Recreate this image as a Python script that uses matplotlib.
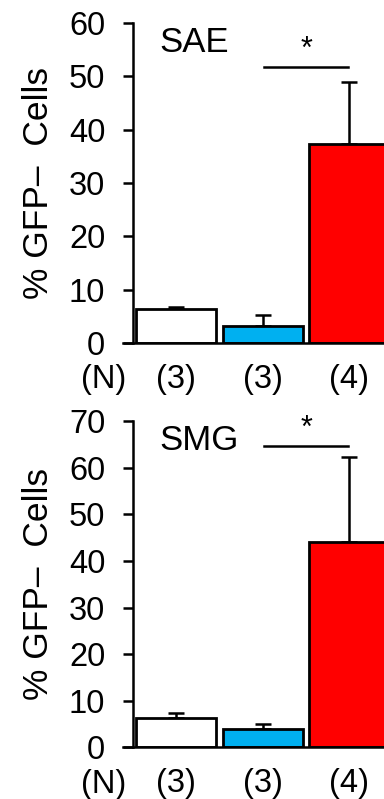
import matplotlib
matplotlib.use('Agg')
import matplotlib.pyplot as plt

plt.rcParams['font.family'] = ['Liberation Sans', 'DejaVu Sans']

n_labels = ['(3)', '(3)', '(4)']
bar_colors = ['white', '#00B0F0', '#FF0000']

sae_means = [6.3, 3.2, 37.4]
sae_err = [0.5, 2.0, 11.6]
sae_sig_y = 51.8

smg_means = [6.2, 3.9, 44.1]
smg_err = [1.1, 1.2, 18.2]
smg_sig_y = 64.8

fig = plt.figure(figsize=(3.84, 7.99), dpi=100)

W = 259.5 / 384
panels = [
    ('SAE', sae_means, sae_err, sae_sig_y, 60, 10, [0.3464, 0.5707, W, 0.4005]),
    ('SMG', smg_means, smg_err, smg_sig_y, 70, 10, [0.3464, 0.0647, W, 0.4080]),
]

for title, means, errs, sig_y, ymax, step, pos in panels:
    ax = fig.add_axes(pos)
    x = range(len(means))
    ax.bar(x, means, width=0.92, color=bar_colors, edgecolor='black', linewidth=2.0, zorder=2)
    ax.errorbar(x, means, yerr=[[0] * len(errs), errs], fmt='none', ecolor='black',
                elinewidth=1.8, capsize=5.5, capthick=1.8, zorder=1)
    ax.set_xlim(-0.5, 2.5)
    ax.set_ylim(0, ymax)
    ax.set_yticks(range(0, ymax + 1, step))
    ax.tick_params(axis='y', direction='out', length=7, width=1.8, labelsize=23.5, pad=13)
    ax.set_xticks(list(x))
    ax.set_xticklabels(n_labels, fontsize=23.5)
    ax.tick_params(axis='x', length=0, pad=15)
    for s in ['top', 'right']:
        ax.spines[s].set_visible(False)
    ax.spines['left'].set_linewidth(1.8)
    ax.spines['bottom'].set_linewidth(1.8)
    ax.spines['bottom'].set_bounds(-0.62, 2.5)
    ax.set_ylabel('% GFP\u2013  Cells', fontsize=25.5, labelpad=10)
    ax.text(0.1, 0.94, title, transform=ax.transAxes, fontsize=25, va='center', ha='left')
    ax.plot([1.02, 1.98], [sig_y, sig_y], color='black', linewidth=1.8, clip_on=False)
    ax.text(1.5, sig_y + ymax * 0.005, '*', fontsize=22, ha='center', va='bottom')
    ax.text(-0.84, -0.115, '(N)', transform=ax.get_xaxis_transform(), fontsize=23.5,
            ha='center', va='center')
    ax.patch.set_alpha(0)

fig.savefig('out.png', dpi=100)
